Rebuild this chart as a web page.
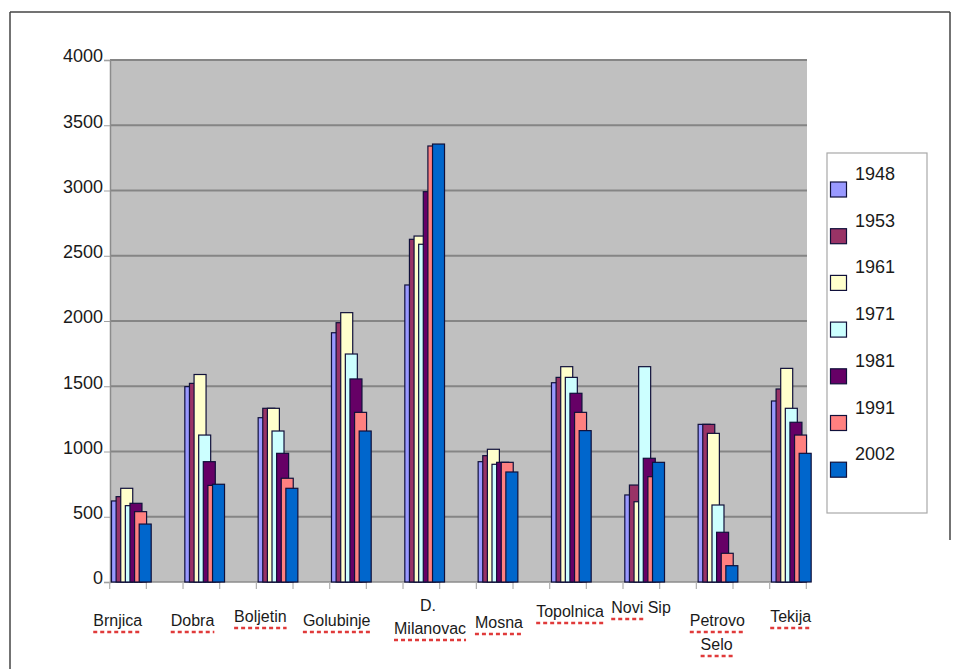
<!DOCTYPE html>
<html>
<head>
<meta charset="utf-8">
<script src="https://cdn.jsdelivr.net/npm/d3@7"></script>
<style>
  body { margin: 0; background: #fff; }
  svg { display: block; font-family: 'Liberation Sans', Arial, sans-serif; }
</style>
</head>
<body>
<div id="chart"></div>
<script>
const categories = ['Brnjica', 'Dobra', 'Boljetin', 'Golubinje', 'D. Milanovac', 'Mosna', 'Topolnica', 'Novi Sip', 'Petrovo Selo', 'Tekija']
const years = ['1948', '1953', '1961', '1971', '1981', '1991', '2002']
const pop1948 = [621, 1497, 1259, 1910, 2276, 922, 1527, 667, 1208, 1387]
const pop1953 = [654, 1522, 1331, 1987, 2626, 968, 1568, 743, 1208, 1479]
const pop1961 = [718, 1590, 1331, 2064, 2651, 1017, 1650, 615, 1139, 1637]
const pop1971 = [585, 1126, 1157, 1747, 2588, 902, 1568, 1650, 590, 1331]
const pop1981 = [603, 922, 986, 1556, 2991, 917, 1446, 948, 381, 1224]
const pop1991 = [539, 740, 795, 1300, 3341, 917, 1300, 807, 220, 1126]
const pop2002 = [444, 749, 718, 1157, 3356, 843, 1160, 917, 125, 986]
const yTicks = [0, 500, 1000, 1500, 2000, 2500, 3000, 3500, 4000]
const colors = ['#9999ff', '#993366', '#ffffcc', '#ccffff', '#660066', '#ff8080', '#0066cc']

const series = [pop1948, pop1953, pop1961, pop1971, pop1981, pop1991, pop2002]

// label placement below the axis (offset from the band start, baselines, underlined part)
const labelLayout = [
  [{ t: 'Brnjica', dx: 8, y: 626, u: 'Brnjica' }],
  [{ t: 'Dobra', dx: 9.5, y: 626, u: 'Dobra' }],
  [{ t: 'Boljetin', dx: 4, y: 622, u: 'Boljetin' }],
  [{ t: 'Golubinje', dx: 7, y: 626, u: 'Golubinje' }],
  [{ t: 'D.', dx: 25, y: 611, u: null }, { t: 'Milanovac', dx: 27, y: 634, u: 'Milanovac' }],
  [{ t: 'Mosna', dx: 22.6, y: 628, u: 'Mosna' }],
  [{ t: 'Topolnica', dx: 20.3, y: 617, u: 'Topolnica' }],
  [{ t: 'Novi Sip', dx: 18, y: 613, u: 'Novi' }],
  [{ t: 'Petrovo', dx: 21, y: 626, u: 'Petrovo' }, { t: 'Selo', dx: 20.3, y: 650, u: 'Selo' }],
  [{ t: 'Tekija', dx: 21, y: 622, u: 'Tekija' }]
]

const W = 961
const H = 669
const plot = { left: 110, right: 807, top: 60, bottom: 582 }

const svg = d3
  .select('#chart')
  .append('svg')
  .attr('width', W)
  .attr('height', H)

// outer frame
svg.append('line').attr('x1', 10).attr('x2', 10).attr('y1', 12).attr('y2', H)
  .attr('stroke', '#444').attr('stroke-width', 1.5)
svg.append('line').attr('x1', 10).attr('x2', 950).attr('y1', 12).attr('y2', 12)
  .attr('stroke', '#444').attr('stroke-width', 1.5)
svg.append('line').attr('x1', 950).attr('x2', 950).attr('y1', 12).attr('y2', 540)
  .attr('stroke', '#444').attr('stroke-width', 1.5)

// scales
const yPositionScale = d3
  .scaleLinear()
  .domain([0, 4000])
  .range([plot.bottom, plot.top])

const xPositionScale = d3
  .scaleBand()
  .domain(categories)
  .range([109.7, 109.7 + 73.33 * categories.length])
  .padding(0)

const yearScale = d3
  .scalePoint()
  .domain(years)
  .range([1.3, 29])

const barWidth = 12

// plot area
svg
  .append('rect')
  .attr('x', plot.left)
  .attr('y', plot.top)
  .attr('width', plot.right - plot.left)
  .attr('height', plot.bottom - plot.top)
  .attr('fill', '#c0c0c0')

// gridlines
svg
  .append('g')
  .selectAll('line')
  .data(yTicks.filter(d => d > 0))
  .enter()
  .append('line')
  .attr('x1', plot.left)
  .attr('x2', plot.right)
  .attr('y1', d => yPositionScale(d))
  .attr('y2', d => yPositionScale(d))
  .attr('stroke', '#858585')
  .attr('stroke-width', 2.2)

// y axis
const yAxis = d3
  .axisLeft(yPositionScale)
  .tickValues(yTicks)
  .tickFormat(d3.format('d'))
  .tickSize(6)
  .tickPadding(1)
svg
  .append('g')
  .attr('class', 'axis y-axis')
  .attr('transform', 'translate(' + plot.left + ',0)')
  .call(yAxis)
  .call(g => g.select('.domain').attr('stroke', '#8c8c8c').attr('stroke-width', 1.5))
  .call(g => g.selectAll('.tick line').attr('stroke', '#a0a0a0'))
  .call(g =>
    g
      .selectAll('.tick text')
      .attr('font-size', 18)
      .attr('font-family', "'Liberation Sans', Arial, sans-serif")
      .attr('fill', '#1a1a1a')
      .attr('dy', '0.1em')
  )

// x axis line and ticks at half-band steps
svg
  .append('line')
  .attr('x1', plot.left)
  .attr('x2', plot.right)
  .attr('y1', plot.bottom)
  .attr('y2', plot.bottom)
  .attr('stroke', '#8c8c8c')
  .attr('stroke-width', 1.5)

const tickXs = []
categories.forEach(c => {
  tickXs.push(xPositionScale(c))
  tickXs.push(xPositionScale(c) + xPositionScale.bandwidth() / 2)
})
svg
  .append('g')
  .selectAll('line')
  .data(tickXs.filter(x => x <= plot.right + 0.5))
  .enter()
  .append('line')
  .attr('x1', d => d)
  .attr('x2', d => d)
  .attr('y1', plot.bottom)
  .attr('y2', plot.bottom + 7)
  .attr('stroke', '#b0b0b0')
  .attr('stroke-width', 1.2)

// bars, one group per village, drawn in year order so later years overlap
const groups = svg
  .append('g')
  .selectAll('g')
  .data(categories)
  .enter()
  .append('g')
  .attr('transform', d => 'translate(' + (xPositionScale(d) + 0.5) + ',0)')

groups
  .selectAll('rect')
  .data((d, i) => years.map((y, j) => ({ year: y, value: series[j][i], idx: j })))
  .enter()
  .append('rect')
  .attr('x', d => yearScale(d.year))
  .attr('y', d => yPositionScale(d.value))
  .attr('width', barWidth)
  .attr('height', d => plot.bottom - yPositionScale(d.value))
  .attr('fill', d => colors[d.idx])
  .attr('stroke', '#10103a')
  .attr('stroke-width', 1.2)

// category labels with the red dotted underline
const labelG = svg.append('g')
categories.forEach((c, i) => {
  labelLayout[i].forEach(line => {
    const cx = xPositionScale(c) + line.dx
    const t = labelG
      .append('text')
      .attr('x', cx)
      .attr('y', line.y)
      .attr('text-anchor', 'middle')
      .attr('font-size', 16)
      .attr('fill', '#1a1a1a')
      .text(line.t)
    if (line.u) {
      const full = t.node().getComputedTextLength()
      const tmp = labelG.append('text').attr('font-size', 16).text(line.u)
      const part = tmp.node().getComputedTextLength()
      tmp.remove()
      const x0 = cx - full / 2
      labelG
        .append('line')
        .attr('x1', x0)
        .attr('x2', x0 + part)
        .attr('y1', line.y + 6)
        .attr('y2', line.y + 6)
        .attr('stroke', '#e03a3a')
        .attr('stroke-width', 2.5)
        .attr('stroke-dasharray', '4,3')
    }
  })
})

// legend
const legend = svg.append('g')
legend
  .append('rect')
  .attr('x', 827)
  .attr('y', 153)
  .attr('width', 100)
  .attr('height', 360)
  .attr('fill', '#fff')
  .attr('stroke', '#a8a8a8')
  .attr('stroke-width', 1.2)

years.forEach((y, i) => {
  const sy = 182 + i * 46.7
  legend
    .append('rect')
    .attr('x', 830.5)
    .attr('y', sy)
    .attr('width', 16)
    .attr('height', 15)
    .attr('fill', colors[i])
    .attr('stroke', '#10103a')
    .attr('stroke-width', 1.2)
  legend
    .append('text')
    .attr('x', 855)
    .attr('y', sy - 2)
    .attr('font-size', 18)
    .attr('fill', '#1a1a1a')
    .text(y)
})
</script>
</body>
</html>
